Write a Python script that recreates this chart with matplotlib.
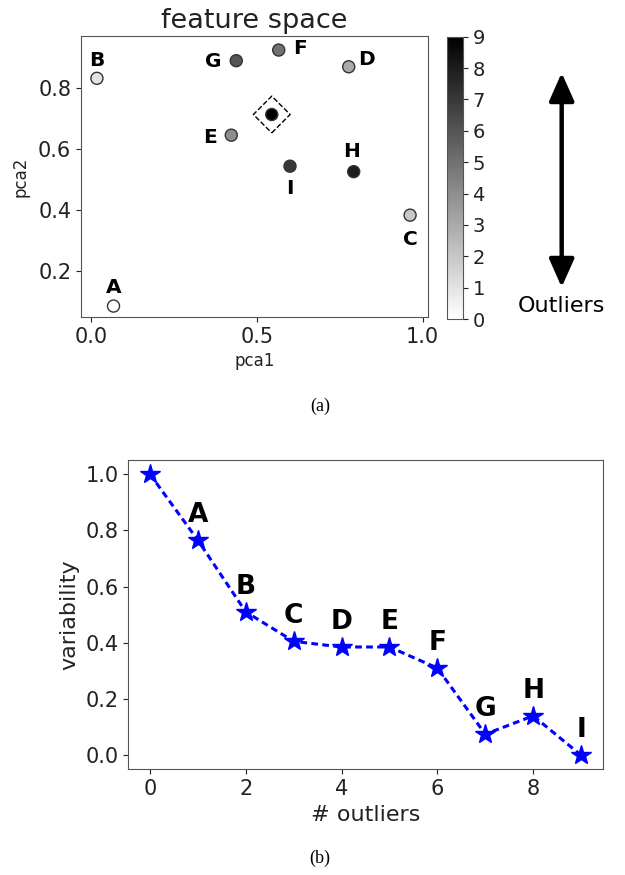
import numpy as np
import matplotlib
matplotlib.use("Agg")
import matplotlib.pyplot as plt

# --- data ---
labels = ["A", "B", "C", "D", "E", "F", "G", "H", "I"]
pca1 = [0.068, 0.018, 0.962, 0.777, 0.423, 0.566, 0.438, 0.792, 0.600]
pca2 = [0.084, 0.833, 0.383, 0.871, 0.646, 0.926, 0.891, 0.526, 0.544]
shade = [0, 1, 2, 3, 4, 5, 6, 8, 7]
center_x, center_y, center_shade = 0.545, 0.714, 9

# label offsets (pixels) for the feature-space letters
label_dx = [0, 0, 0, 18, -21, 21, -23, -2, 0]
label_dy = [19, 18, -24, 7, -2, 2, -1, 20, -22]

n_outliers = [0, 1, 2, 3, 4, 5, 6, 7, 8, 9]
variability = [1.0, 0.765, 0.51, 0.405, 0.385, 0.385, 0.31, 0.075, 0.14, 0.0]

fig = plt.figure(figsize=(6.25, 8.75), dpi=100)

# Step 1: feature space scatter
ax1 = fig.add_axes([0.1296, 0.6377, 0.5552, 0.3211])
sc = ax1.scatter(pca1 + [center_x], pca2 + [center_y], c=shade + [center_shade],
                 cmap="gray_r", vmin=0, vmax=9, s=75, edgecolors="#333333",
                 linewidths=1, zorder=3)
ax1.scatter([center_x], [center_y], marker="D", s=350, facecolors="none",
            edgecolors="black", linewidths=1, linestyle="--", zorder=2)
for lab, x, y, dx, dy in zip(labels, pca1, pca2, label_dx, label_dy):
    ax1.annotate(lab, (x, y), xytext=(dx, dy), textcoords="offset pixels",
                 ha="center", va="center", fontsize=14.5, fontweight="bold")
ax1.set_xlim(-0.03, 1.016)
ax1.set_ylim(0.048, 0.972)
ax1.set_xticks([0.0, 0.5, 1.0])
ax1.set_yticks([0.2, 0.4, 0.6, 0.8])
ax1.tick_params(labelsize=15, colors="#222222")
ax1.set_title("feature space", fontsize=19.5, color="#222222")
ax1.set_xlabel("pca1", fontsize=12, color="#222222", labelpad=4)
ax1.set_ylabel("pca2", fontsize=12, color="#222222", labelpad=6)
for sp in ax1.spines.values():
    sp.set_color("#555555")

# colorbar
cax = fig.add_axes([0.7157, 0.6354, 0.0246, 0.3226])
cb = fig.colorbar(sc, cax=cax, ticks=range(10))
cb.ax.tick_params(labelsize=14, colors="#222222")
cb.outline.set_edgecolor("#555555")

# double arrow + "Outliers"
fig.add_artist(plt.matplotlib.patches.FancyArrowPatch(
    (0.8987, 0.6686), (0.8987, 0.92), transform=fig.transFigure,
    arrowstyle="<|-|>,head_length=0.45,head_width=0.2", mutation_scale=38,
    lw=3.2, color="black"))
fig.text(0.8987, 1 - 306 / 875, "Outliers", ha="center", va="center", fontsize=16)

# Step 2: variability vs outliers
ax2 = fig.add_axes([0.2053, 0.1208, 0.759, 0.3535])
ax2.plot(n_outliers, variability, color="blue", lw=2.2, dashes=(2.2, 1.4),
         marker="*", markersize=15)
for lab, x, y in zip(labels, n_outliers[1:], variability[1:]):
    ax2.annotate(lab, (x, y), xytext=(0, 25), textcoords="offset pixels",
                 ha="center", va="center", fontsize=19, fontweight="bold")
ax2.set_xticks([0, 2, 4, 6, 8])
ax2.set_yticks([0.0, 0.2, 0.4, 0.6, 0.8, 1.0])
ax2.tick_params(labelsize=15, colors="#222222")
ax2.set_xlabel("# outliers", fontsize=16, color="#222222")
ax2.set_ylabel("variability", fontsize=16, color="#222222")
for sp in ax2.spines.values():
    sp.set_color("#555555")

# captions
fig.text(0.512, 1 - 406 / 875, "(a)", ha="center", va="center", fontsize=13,
         family="Liberation Serif")
fig.text(0.512, 1 - 858 / 875, "(b)", ha="center", va="center", fontsize=13,
         family="Liberation Serif")

fig.savefig("out.png", dpi=100)
